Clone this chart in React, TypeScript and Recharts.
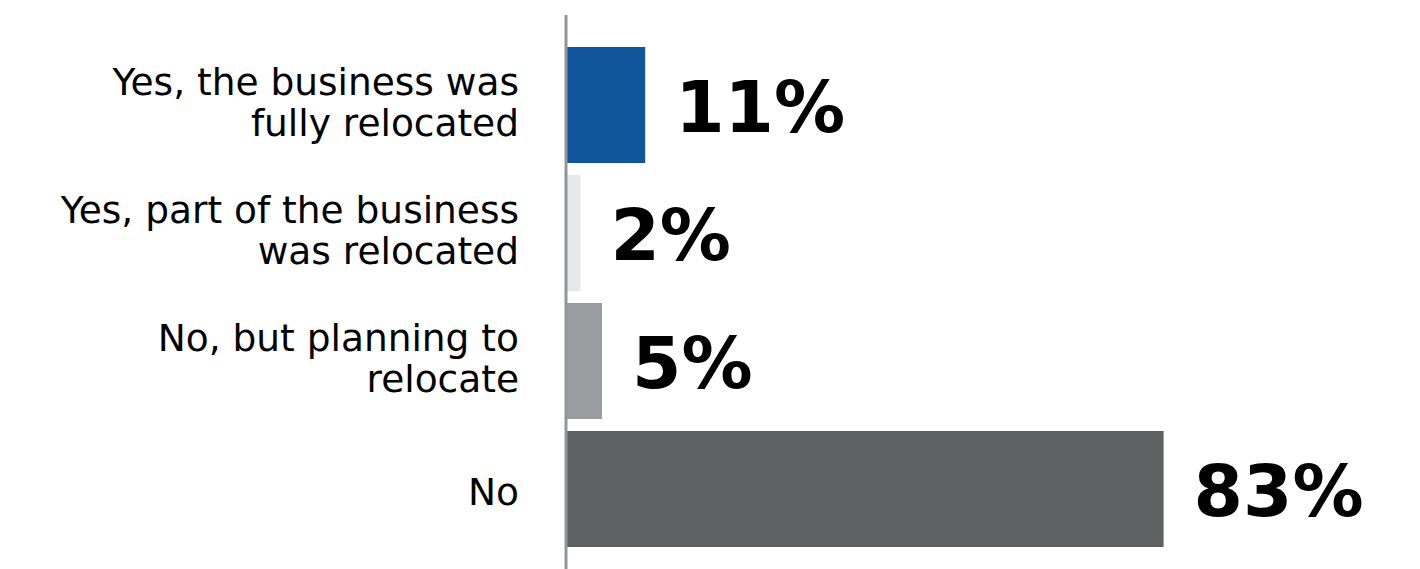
import React from "react";
import { BarChart, Bar, XAxis, YAxis, Cell, LabelList } from "recharts";

const categoryLines: string[][] = [
  ["Yes, the business was", "fully relocated"],
  ["Yes, part of the business", "was relocated"],
  ["No, but planning to", "relocate"],
  ["No"],
];
const categories = categoryLines.map((l) => l.join(" "));
const values = [11, 2, 5, 83];
const colors = ["#11559a", "#e6e7e8", "#9b9c9f", "#5f6062"];

const data = categories.map((c, i) => ({ name: c, value: values[i] }));

const FONT = "'DejaVu Sans', sans-serif";

const Tick = (props: any) => {
  const { x, y, payload } = props;
  const idx = categories.indexOf(payload.value);
  const lines = idx >= 0 ? categoryLines[idx] : [String(payload.value)];
  const offsets = lines.length === 1 ? [16] : [-10, 31];
  return (
    <g>
      {lines.map((ln, i) => (
        <text
          key={i}
          x={x}
          y={y + offsets[i]}
          textAnchor="end"
          fontFamily={FONT}
          fontSize={37.5}
          fill="#000"
        >
          {ln}
        </text>
      ))}
    </g>
  );
};

const ValueLabel = (props: any) => {
  const { x, y, width, height, value } = props;
  return (
    <text
      x={x + width + 30}
      y={y + height / 2 + 27}
      fontFamily={FONT}
      fontWeight="bold"
      fontSize={71}
      fill="#000"
    >
      {value}%
    </text>
  );
};

export default function App() {
  return (
    <div style={{ position: "absolute", left: 0, top: 0, background: "#fff" }}>
      <BarChart
        width={1420}
        height={569}
        data={data}
        layout="vertical"
        margin={{ top: 15, right: 134, bottom: 0, left: 0 }}
      >
        <XAxis type="number" domain={[0, 100]} hide />
        <YAxis
          type="category"
          dataKey="name"
          width={566}
          padding={{ top: 26, bottom: 16 }}
          axisLine={{ stroke: "#939598", strokeWidth: 3 }}
          tickLine={false}
          tickSize={0}
          tickMargin={47}
          tick={<Tick />}
          interval={0}
        />
        <Bar dataKey="value" barSize={116} isAnimationActive={false}>
          {data.map((d, i) => (
            <Cell key={i} fill={colors[i]} />
          ))}
          <LabelList dataKey="value" content={<ValueLabel />} />
        </Bar>
      </BarChart>
    </div>
  );
}
